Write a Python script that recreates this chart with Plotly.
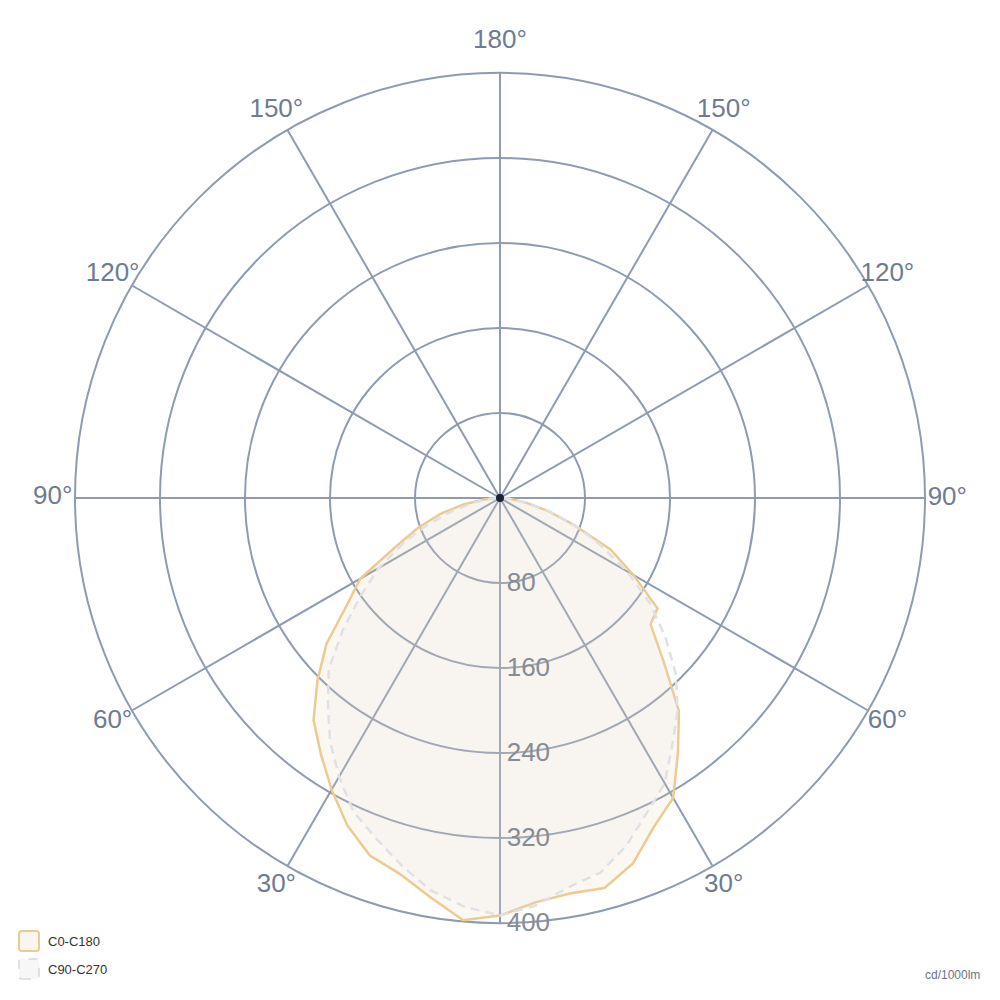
import plotly.graph_objects as go

# ---- data (gamma angle in degrees, intensity in cd/1000lm) ----
gamma = [0, 5, 10, 15, 20, 25, 30, 35, 40, 45, 50, 55, 60, 65, 70, 75, 80, 85, 90]
c0 = [393, 382, 378, 380, 366, 342, 326, 292, 262, 218, 185, 181, 145, 115, 74, 46, 24, 9, 2]
c180 = [393, 399, 381, 366, 358, 340, 317, 294, 273, 243, 213, 176, 152, 108, 82, 58, 35, 15, 3]
c90 = [393, 385, 372, 365, 348, 327, 310, 283, 260, 234, 203, 172, 138, 104, 75, 48, 25, 10, 2]
c270 = [393, 386, 375, 358, 341, 326, 303, 279, 252, 228, 193, 160, 132, 100, 72, 45, 25, 10, 2]

angle_ticks = [0, 30, 60, 90, 120, 150, 180, 210, 240, 270, 300, 330]
angle_labels = ["", "30°", "60°", "90°", "120°", "150°", "180°", "150°", "120°", "90°", "60°", "30°"]
radial_ticks = [80, 160, 240, 320, 400]
series_names = ["C0-C180", "C90-C270"]
series_line = ["#ebcb94", "#dfe1e6"]
series_fill = ["rgba(228,206,166,0.15)", "rgba(225,225,228,0.10)"]
series_dash = ["solid", "9px,6px"]
unit_label = "cd/1000lm"

R_MAX = 400
LABEL_R = 421      # angular labels sit just outside the outer ring
LABEL_R_TOP = 430  # the top (180°) label sits a little further out
OUTER_MAX = 450    # range of the transparent label overlay (same px/unit scale)

# page body has an 8px default margin; shift paper positions accordingly
OFF = 0.008
CX, CY = 0.500, 0.502          # polar centre (paper)
RAD = 0.425                    # radius of the 0..R_MAX ring (paper)
RAD2 = RAD * OUTER_MAX / R_MAX


def closed_curve(right, left):
    th = [g for g in reversed(gamma)] + [360 - g for g in gamma]
    rr = list(reversed(right)) + list(left)
    return th, rr


grid_color = "#8e9bb0"

fig = go.Figure()

for name, (rv, lv), lc, fc, ds in zip(series_names, [(c0, c180), (c90, c270)],
                                     series_line, series_fill, series_dash):
    th, rr = closed_curve(rv, lv)
    fig.add_trace(go.Scatterpolar(
        theta=th, r=rr, mode="lines", name=name,
        line=dict(color=lc, width=2.5, dash=ds),
        fill="toself", fillcolor=fc, showlegend=False,
    ))

fig.add_trace(go.Scatterpolar(
    theta=[0], r=[0], mode="markers",
    marker=dict(color="#1b2130", size=8),
    showlegend=False, hoverinfo="skip",
))

# angular labels placed through a transparent concentric polar overlay
label_r = [LABEL_R_TOP if t == 180 else LABEL_R for t in angle_ticks]
fig.add_trace(go.Scatterpolar(
    theta=angle_ticks, r=label_r, mode="text",
    text=angle_labels, textposition="middle center",
    textfont=dict(size=26, color="#6e7c91"),
    cliponaxis=False, showlegend=False, hoverinfo="skip",
    subplot="polar2",
))

# custom legend (rounded squares + labels)
shapes = []
annotations = []
legend_y = [0.059, 0.031]  # paper y centres of legend rows
for i, name in enumerate(series_names):
    yc = legend_y[i] + OFF
    x0, x1 = 0.019 - OFF, 0.039 - OFF
    y0, y1 = yc - 0.010, yc + 0.010
    rr_ = 0.003
    path = (f"M{x0+rr_},{y0} L{x1-rr_},{y0} Q{x1},{y0} {x1},{y0+rr_} "
            f"L{x1},{y1-rr_} Q{x1},{y1} {x1-rr_},{y1} L{x0+rr_},{y1} "
            f"Q{x0},{y1} {x0},{y1-rr_} L{x0},{y0+rr_} Q{x0},{y0} {x0+rr_},{y0} Z")
    shapes.append(dict(
        type="path", xref="paper", yref="paper", path=path,
        fillcolor="rgba(228,206,166,0.18)" if i == 0 else "rgba(240,240,242,0.5)",
        line=dict(color=series_line[i], width=2, dash="dash" if i else "solid"),
    ))
    annotations.append(dict(
        text=name, x=0.046 - OFF, y=yc, xref="paper", yref="paper",
        xanchor="left", yanchor="middle", showarrow=False,
        font=dict(size=13, color="#333333"),
    ))

annotations.append(dict(
    text=unit_label, x=0.982 - OFF, y=0.025 + OFF, xref="paper", yref="paper",
    xanchor="right", yanchor="middle", showarrow=False,
    font=dict(size=12, color="#6b7585"),
))

fig.update_layout(
    width=1000, height=1000,
    paper_bgcolor="white", plot_bgcolor="white",
    margin=dict(l=0, r=0, t=0, b=0),
    font=dict(family="Liberation Sans, Arial, sans-serif"),
    polar=dict(
        domain=dict(x=[CX - RAD - OFF, CX + RAD - OFF], y=[CY - RAD + OFF, CY + RAD + OFF]),
        bgcolor="white",
        angularaxis=dict(
            rotation=270, direction="counterclockwise",
            tickmode="array", tickvals=angle_ticks, ticktext=angle_labels,
            showticklabels=False,
            showgrid=True, gridcolor=grid_color, gridwidth=2,
            showline=True, linecolor=grid_color, linewidth=2,
            ticks="", layer="below traces",
        ),
        radialaxis=dict(
            range=[0, R_MAX], tickmode="array", tickvals=radial_ticks,
            ticktext=[str(v) for v in radial_ticks],
            angle=-90, side="counterclockwise", tickangle=-90,
            showgrid=True, gridcolor=grid_color, gridwidth=2,
            showline=False, ticks="outside", ticklen=1,
            tickcolor="rgba(0,0,0,0)",
            tickfont=dict(size=26, color="#868c94"),
            layer="above traces",
        ),
    ),
    polar2=dict(
        domain=dict(x=[CX - RAD2 - OFF, CX + RAD2 - OFF], y=[CY - RAD2 + OFF, CY + RAD2 + OFF]),
        bgcolor="rgba(0,0,0,0)",
        angularaxis=dict(
            rotation=270, direction="counterclockwise",
            showticklabels=False, showgrid=False, showline=False, ticks="",
        ),
        radialaxis=dict(
            range=[0, OUTER_MAX], visible=False, showgrid=False,
            showline=False, showticklabels=False, ticks="",
        ),
    ),
    showlegend=False,
    shapes=shapes,
    annotations=annotations,
)

fig.write_html("out.html")
